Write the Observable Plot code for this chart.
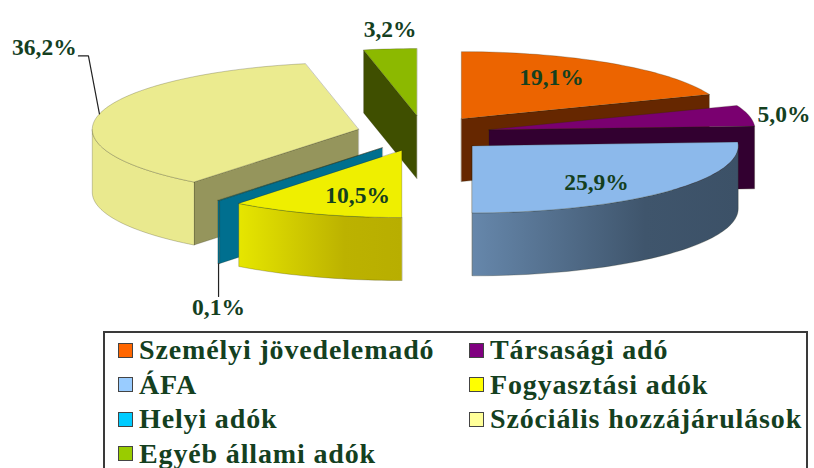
<!DOCTYPE html>
<html lang="hu">
<head>
<meta charset="utf-8">
<script src="https://cdn.jsdelivr.net/npm/d3@7"></script>
<script src="https://cdn.jsdelivr.net/npm/@observablehq/plot@0.6"></script>
<style>
  html, body { margin: 0; padding: 0; background: #fff; width: 814px; height: 468px; overflow: hidden; }
  svg { display: block; }
  #legend {
    box-sizing: border-box; position: absolute; left: 103px; top: 331px; width: 705px; height: 145px;
    border: 2px solid #3a3a3a; color: #14401f;
    font: bold 28px "Liberation Serif", serif; letter-spacing: 0.85px; line-height: 34.5px;
    display: grid; grid-template-columns: 351px 1fr; grid-auto-rows: 34.5px; padding: 0 0 0 13px;
  }
  #legend div { display: flex; align-items: center; white-space: nowrap; }
  #legend i { width: 13px; height: 13px; border: 1.5px solid #444; margin-right: 6px; flex: none; }
</style>
</head>
<body>
<div id="chart"></div>
<div id="legend"></div>
<script>
// Data
const categories = ["Személyi jövedelemadó", "Társasági adó", "ÁFA", "Fogyasztási adók", "Helyi adók", "Szóciális hozzájárulások", "Egyéb állami adók"];
const shares = [19.1, 5.0, 25.9, 10.5, 0.1, 36.2, 3.2];
const labels = ["19,1%", "5,0%", "25,9%", "10,5%", "0,1%", "36,2%", "3,2%"];
const legendColors = ["#FF6600", "#800080", "#99CCFF", "#FFFF00", "#00CCFF", "#FFFF99", "#99CC00"];

// Styling
const topColors = ["#EC6400", "#7A0070", "#8CB9EB", "#EFEF00", "#006F8F", "#EBEB8F", "#8CB900"];
const cutColors = ["#662700", "#320030", "#3B5068", "#B8B000", "#006F8F", "#95955C", "#3F4F00"];
const wallStops = [
  ["#662700", "#662700"], ["#320030", "#320030"], ["#6687AB", "#3C5167"], ["#E6E600", "#B8AE00"],
  ["#006F8F", "#006F8F"], ["#E9E98E", "#E9E98E"], ["#3F4F00", "#3F4F00"]
];
const labelOffsets = [[-60, 14], [35, -1], [-69, -9], [42, -18], [0, 107], [-55, -66], [0, -19]]; // px from rim

// Pie geometry: unit circle seen at a tilt; px per unit comes from the scales
const W = 814, H = 331, cx = 423, cy = 133, rx = 266, ry = 67;
const explodeX = 0.252, explodeY = 0.269, depth = 0.94;
const xDomain = [-cx / rx, (W - cx) / rx], yDomain = [-cy / ry, (H - cy) / ry];

const total = d3.sum(shares);
let acc = 0;
const slices = shares.map((s, i) => {
  const a0 = acc / total * 360; acc += s;
  const a1 = acc / total * 360, mid = (a0 + a1) / 2;
  const rad = d => d * Math.PI / 180;
  const ax = explodeX * Math.sin(rad(mid)), ay = -explodeY * Math.cos(rad(mid));
  const rim = (a, drop = 0) => ({x: ax + Math.sin(rad(a)), y: ay - Math.cos(rad(a)) + drop});
  return {i, a0, a1, mid, ax, ay, rim};
});
const arc = (s, from, to, drop = 0) => {
  const n = Math.max(1, Math.ceil((to - from) / 1.5));
  return d3.range(n + 1).map(k => s.rim(from + (to - from) * k / n, drop));
};

const marks = [];
const face = (pts, fill) => marks.push(Plot.line(pts, {
  x: "x", y: "y", fill, stroke: "#2a2a10", strokeOpacity: 0.35, strokeWidth: 0.7, curve: "linear-closed"
}));

// Gradient definitions for the curved outer walls
marks.push(() => {
  const defs = d3.create("svg:defs");
  wallStops.forEach((st, i) => {
    const g = defs.append("linearGradient").attr("id", "wall" + i);
    g.append("stop").attr("offset", "0%").attr("stop-color", st[0]);
    g.append("stop").attr("offset", "65%").attr("stop-color", d3.interpolateRgb(st[0], st[1])(0.92));
    g.append("stop").attr("offset", "100%").attr("stop-color", st[1]);
  });
  return defs.node();
});

// Back to front
[...slices].sort((p, q) => p.ay - q.ay).forEach(s => {
  const apex = {x: s.ax, y: s.ay}, apexLow = {x: s.ax, y: s.ay + depth};
  const vis0 = s.a0 > 180 && s.a0 < 360, vis1 = s.a1 > 0 && s.a1 < 180;
  if (vis0) face([apex, s.rim(s.a0), s.rim(s.a0, depth), apexLow], cutColors[s.i]);
  if (vis1) face([apex, s.rim(s.a1), s.rim(s.a1, depth), apexLow], cutColors[s.i]);
  const w0 = Math.max(s.a0, 90), w1 = Math.min(s.a1, 270);
  if (w1 > w0) face([...arc(s, w0, w1), ...arc(s, w0, w1, depth).reverse()], `url(#wall${s.i})`);
  face([apex, ...arc(s, s.a0, s.a1)], topColors[s.i]);
});

// Leader lines
const cream = slices[5], teal = slices[4];
const creamRim = cream.rim(cream.mid), tealRim = teal.rim(teal.mid, depth);
const leader = (pts) => marks.push(Plot.line(pts, {x: "x", y: "y", stroke: "#222", strokeWidth: 1.2}));
leader([creamRim, {x: creamRim.x - 11 / rx, y: creamRim.y - 58 / ry}, {x: creamRim.x - 21 / rx, y: creamRim.y - 58 / ry}]);
leader([tealRim, {x: tealRim.x, y: tealRim.y + 33 / ry}]);

// Value labels
const labelRows = slices.map(s => {
  const p = s.rim(s.mid), [dx, dy] = labelOffsets[s.i];
  return {x: p.x + dx / rx, y: p.y + dy / ry, text: labels[s.i]};
});
marks.push(Plot.text(labelRows, {
  x: "x", y: "y", text: "text", fill: "#14401f", fontSize: 23.5, fontWeight: "bold",
  fontFamily: "Liberation Serif", textAnchor: "middle", lineAnchor: "middle"
}));

document.getElementById("chart").append(Plot.plot({
  width: W, height: H, margin: 0,
  x: {axis: null, domain: xDomain, range: [0, W]},
  y: {axis: null, domain: yDomain, range: [0, H]},
  marks
}));

const legend = d3.select("#legend");
categories.forEach((c, i) => {
  const row = legend.append("div");
  row.append("i").style("background", legendColors[i]);
  row.append("span").text(c);
});
</script>
</body>
</html>
